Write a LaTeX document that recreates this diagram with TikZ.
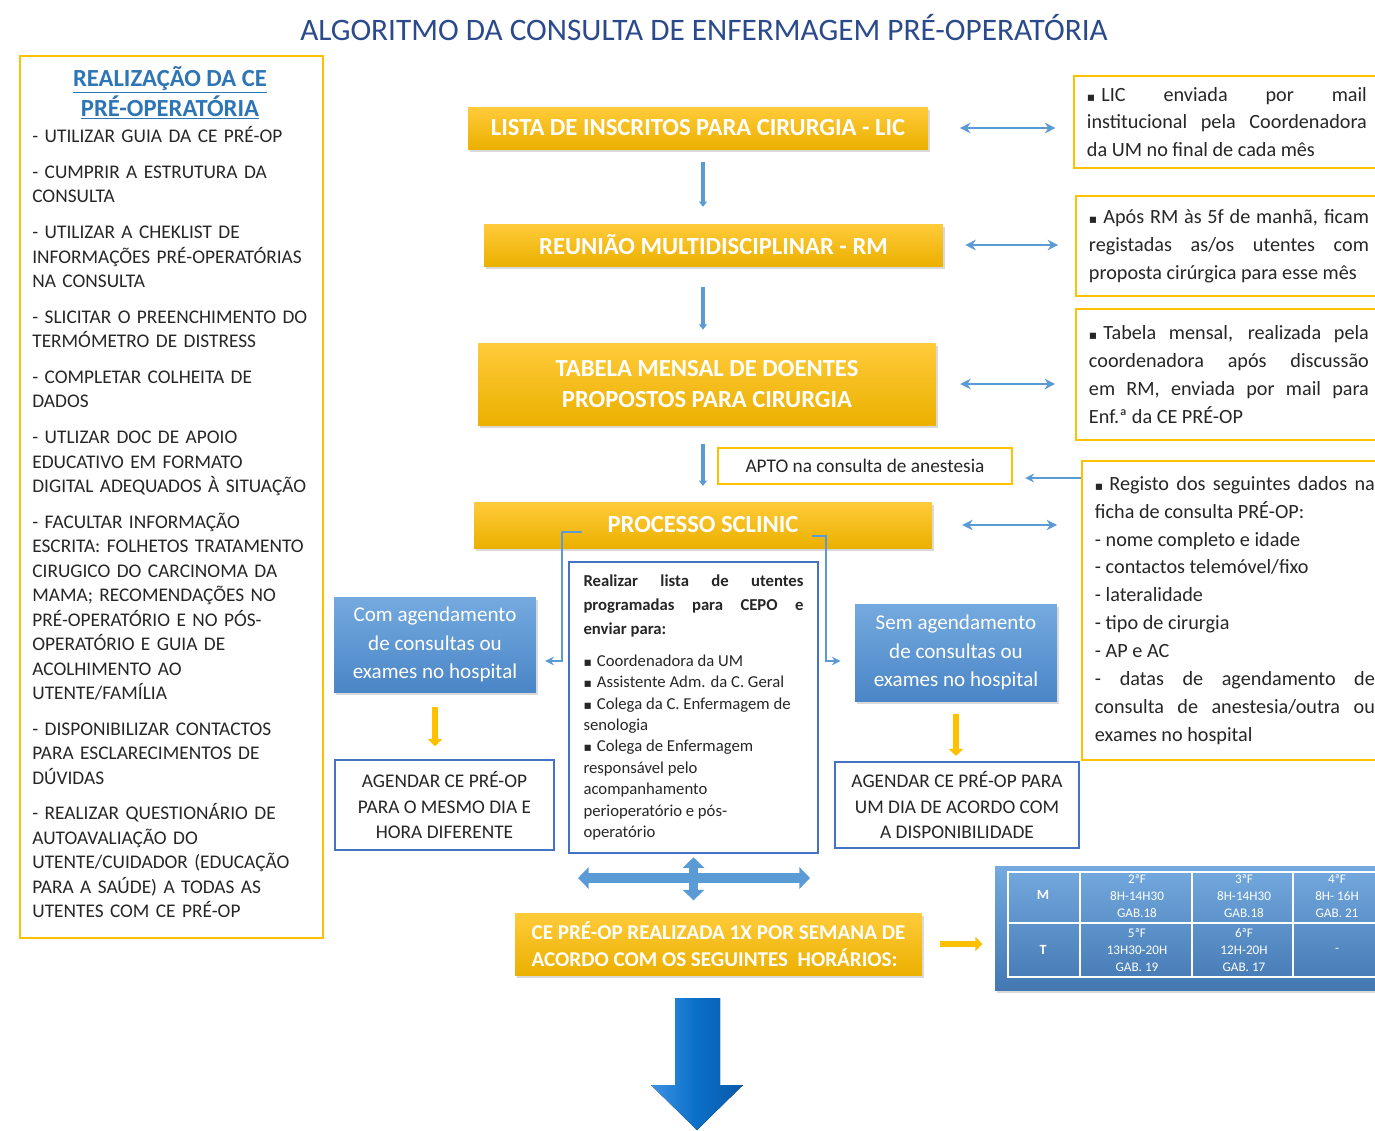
\documentclass[tikz,border=0pt]{standalone}
\usepackage{fontspec}
\setmainfont{Carlito}
\newfontfamily\symf{DejaVu Sans}
\usepackage{graphicx}
\usetikzlibrary{arrows.meta,shadows}
\definecolor{ttlblue}{HTML}{2B4A8C}
\definecolor{ybord}{HTML}{FFC000}
\definecolor{ytop}{HTML}{FFCB3A}
\definecolor{ybot}{HTML}{EBB000}
\definecolor{lnblue}{HTML}{5B9BD5}
\definecolor{btop}{HTML}{74AADF}
\definecolor{bbot}{HTML}{4A85C6}
\definecolor{bbord}{HTML}{4472C4}
\definecolor{hdblue}{HTML}{2E75B6}
\definecolor{txt}{HTML}{262626}
\definecolor{arrl}{HTML}{3C92E4}
\definecolor{arrm}{HTML}{0A6FC8}
\definecolor{arrr}{HTML}{0A58A8}
\newcommand\blt{{\symf\fontsize{7}{7}\selectfont ▪}\hspace{0.3em}}
\hbadness=10000
\begin{document}
\begin{tikzpicture}[x=0.02cm,y=-0.02cm,
  yelbox/.style={top color=ytop,bottom color=ybot,text=white,align=center,inner sep=0pt,
    font=\bfseries\fontsize{14}{17.6}\selectfont,drop shadow={opacity=0.3,shadow xshift=1.2pt,shadow yshift=-1.8pt}},
  bluebox/.style={top color=btop,bottom color=bbot,text=white,align=center,inner sep=0pt,
    font=\fontsize{12}{16.4}\selectfont,drop shadow={opacity=0.3,shadow xshift=1.2pt,shadow yshift=-1.8pt}},
  notebox/.style={draw=ybord,line width=1.1pt,fill=white,text=txt,align=justify,text width=5.6cm,
    inner xsep=0.26cm,anchor=west,font=\fontsize{11.5}{15.9}\selectfont},
  agbox/.style={draw=bbord,line width=0.9pt,fill=white,text=txt,align=center,font=\fontsize{11}{14.7}\selectfont},
  linkarr/.style={draw=lnblue,line width=0.9pt,>={Stealth[length=5pt,width=5pt]},->},
  dblarr/.style={draw=lnblue,line width=1.2pt,>={Stealth[length=6pt,width=6pt]},<->},
  downarr/.style={draw=lnblue,line width=2.3pt,>={Triangle[length=3pt,width=4.5pt]},->},
  orgarr/.style={draw=ybord,line width=3.2pt,>={Triangle[length=4pt,width=8pt]},->},
  fourarr/.style={draw=lnblue,line width=5.5pt,>={Triangle[length=6pt,width=12pt]},<->},
  cell/.style={text=white,align=center,font=\fontsize{7.5}{9.6}\selectfont}]
\useasboundingbox (0,0) rectangle (1375,1130);
\node[font=\fontsize{17.8}{20}\selectfont,text=ttlblue] (title) at (704,28) {ALGORITMO DA CONSULTA DE ENFERMAGEM PRÉ-OPERATÓRIA};
\node[draw=ybord,line width=1.2pt,minimum width=6.06cm,minimum height=17.64cm] (left) at (171.5,497) {};
\node[text=hdblue,font=\bfseries\fontsize{14}{15.9}\selectfont,align=center] (lefthd) at (170,93)
  {\underline{REALIZAÇÃO DA CE}\\\underline{PRÉ-OPERATÓRIA}};
\node[anchor=north west,inner sep=0pt,text width=5.9cm,align=left,text=txt,font=\fontsize{11}{13.9}\selectfont] (leftlst) at (32,126) {%
- UTILIZAR GUIA DA CE PRÉ-OP\\[6.5pt]
- CUMPRIR A ESTRUTURA DA\\CONSULTA\\[6.5pt]
- UTILIZAR A CHEKLIST DE\\INFORMAÇÕES PRÉ-OPERATÓRIAS\\NA CONSULTA\\[6.5pt]
- SLICITAR O PREENCHIMENTO DO\\TERMÓMETRO DE DISTRESS\\[6.5pt]
- COMPLETAR COLHEITA DE\\DADOS\\[6.5pt]
- UTLIZAR DOC DE APOIO\\EDUCATIVO EM FORMATO\\DIGITAL ADEQUADOS À SITUAÇÃO\\[6.5pt]
- FACULTAR INFORMAÇÃO\\ESCRITA: FOLHETOS TRATAMENTO\\CIRUGICO DO CARCINOMA DA\\MAMA; RECOMENDAÇÕES NO\\PRÉ-OPERATÓRIO E NO PÓS-\\OPERATÓRIO E GUIA DE\\ACOLHIMENTO AO\\UTENTE/FAMÍLIA\\[6.5pt]
- DISPONIBILIZAR CONTACTOS\\PARA ESCLARECIMENTOS DE\\DÚVIDAS\\[6.5pt]
- REALIZAR QUESTIONÁRIO DE\\AUTOAVALIAÇÃO DO\\UTENTE/CUIDADOR (EDUCAÇÃO\\PARA A SAÚDE) A TODAS AS\\UTENTES COM CE PRÉ-OP};
\node[yelbox,minimum width=9.2cm,minimum height=0.84cm] (lic) at (698,128) {LISTA DE INSCRITOS PARA CIRURGIA - LIC};
\node[yelbox,minimum width=9.18cm,minimum height=0.84cm] (rm) at (713.5,245) {REUNIÃO MULTIDISCIPLINAR - RM};
\node[yelbox,minimum width=9.16cm,minimum height=1.64cm] (tab) at (707,384) {TABELA MENSAL DE DOENTES\\PROPOSTOS PARA CIRURGIA};
\node[yelbox,minimum width=9.16cm,minimum height=0.92cm] (proc) at (703,525) {PROCESSO SCLINIC};
\node[yelbox,minimum width=8.14cm,minimum height=1.24cm,align=left,font=\bfseries\fontsize{12}{15.3}\selectfont] (ce) at (718.5,944)
  {CE PRÉ-OP REALIZADA 1X POR SEMANA DE\\ACORDO COM OS SEGUINTES\ \ HORÁRIOS:};
\node[notebox,minimum height=1.84cm] (n1) at (1073,122)
  {\blt LIC enviada por mail\linebreak institucional pela Coordenadora\linebreak da UM no final de cada mês};
\node[notebox,minimum height=2cm] (n2) at (1075,246)
  {\blt Após RM às 5f de manhã, ficam\linebreak registadas as/os utentes com\linebreak proposta cirúrgica para esse mês};
\node[notebox,minimum height=2.62cm] (n3) at (1075,374.5)
  {\blt Tabela mensal, realizada pela\linebreak coordenadora após discussão\linebreak em RM, enviada por mail para\linebreak Enf.ª da CE PRÉ-OP};
\node[notebox,minimum height=5.98cm] (n4) at (1081,610.5)
  {\blt Registo dos seguintes dados na\linebreak ficha de consulta PRÉ-OP:\\- nome completo e idade\\- contactos telemóvel/fixo\\- lateralidade\\- tipo de cirurgia\\- AP e AC\\- datas de agendamento de\linebreak consulta de anestesia/outra ou\linebreak exames no hospital};
\node[draw=ybord,line width=1.1pt,minimum width=5.88cm,minimum height=0.72cm,text=txt,font=\fontsize{11}{13}\selectfont] (apto) at (865,466) {APTO na consulta de anestesia};
\node[bluebox,minimum width=4.04cm,minimum height=1.9cm] (com) at (435,644.5) {Com agendamento\\de consultas ou\\exames no hospital};
\node[bluebox,minimum width=4.04cm,minimum height=1.94cm] (sem) at (956,652.5) {Sem agendamento\\de consultas ou\\exames no hospital};
\node[agbox,minimum width=4.38cm,minimum height=1.8cm] (ag1) at (444.5,805) {AGENDAR CE PRÉ-OP\\PARA O MESMO DIA E\\HORA DIFERENTE};
\node[agbox,minimum width=4.88cm,minimum height=1.72cm] (ag2) at (957,805) {AGENDAR CE PRÉ-OP PARA\\UM DIA DE ACORDO COM\\A DISPONIBILIDADE};
\node[draw=bbord,line width=0.9pt,minimum width=4.98cm,minimum height=5.82cm,text width=4.4cm,align=justify,text=txt,font=\fontsize{9.5}{12.2}\selectfont] (mid) at (693.5,707.5)
  {{\bfseries\fontsize{9.5}{13.6}\selectfont Realizar lista de utentes\linebreak programadas para CEPO e\linebreak enviar para:\par}\vspace{6pt}
  \blt Coordenadora da UM\\\blt Assistente Adm. da C. Geral\\\blt Colega da C. Enfermagem de\\senologia\\\blt Colega de Enfermagem\\responsável pelo\\acompanhamento\\perioperatório e pós-\\operatório};
\node[minimum width=7.8cm,minimum height=2.48cm,top color=btop,bottom color=bbot!90!black,drop shadow={opacity=0.3,shadow xshift=1.2pt,shadow yshift=-1.8pt}] (tbl) at (1190,928) {};
\draw[white,line width=0.7pt] (1008,872) rectangle (1390,977) (1080,872) -- (1080,977) (1192,872) -- (1192,977)
  (1293,872) -- (1293,977) (1008,923) -- (1390,923);
\node[cell,font=\bfseries\fontsize{8}{9.6}\selectfont] (tm) at (1043,895) {M};
\node[cell,font=\bfseries\fontsize{8}{9.6}\selectfont] (tt) at (1043,950) {T};
\node[cell] (c11) at (1137,896) {2ªF\\8H-14H30\\GAB.18};
\node[cell] (c12) at (1244,896) {3ªF\\8H-14H30\\GAB.18};
\node[cell] (c13) at (1337,896) {4ªF\\8H- 16H\\GAB. 21};
\node[cell] (c21) at (1137,950) {5ªF\\13H30-20H\\GAB. 19};
\node[cell] (c22) at (1244,950) {6ªF\\12H-20H\\GAB. 17};
\node[cell] (c23) at (1337,950) {-};
\draw[downarr,shorten <=7.4pt,shorten >=9.6pt] (lic.south -| proc.north) -- (rm.north -| proc.north);
\draw[downarr,shorten <=12pt,shorten >=7.4pt] (rm.south -| proc.north) -- (tab.north -| proc.north);
\draw[downarr,shorten <=10.8pt,shorten >=9pt] (tab.south -| proc.north) -- (proc.north);
\draw[dblarr,shorten <=18pt,shorten >=10pt] (lic.east) -- (lic.east -| n1.west);
\draw[dblarr,shorten <=12.5pt,shorten >=9.6pt] (rm.east) -- (rm.east -| n2.west);
\draw[dblarr,shorten <=13.6pt,shorten >=11.3pt] (tab.east) -- (tab.east -| n3.west);
\draw[dblarr,shorten <=17pt,shorten >=13.6pt] (proc.east) -- (proc.east -| n4.west);
\coordinate (ap) at (1081,478);
\draw[linkarr,line width=1.2pt,shorten >=7pt] (ap) -- (ap -| apto.east);
\coordinate (pl) at (582,532);
\coordinate (plb) at (562,661);
\draw[linkarr,shorten >=5pt] (pl) -| (plb) -- (plb -| com.east);
\coordinate (pr) at (812,536);
\coordinate (prb) at (826,661);
\draw[linkarr,shorten >=8pt] (pr) -| (prb) -- (prb -| sem.west);
\draw[orgarr,shorten <=8.5pt,shorten >=7.4pt] (com.south) -- (com.south |- ag1.north);
\draw[orgarr,shorten <=7.4pt,shorten >=3pt] (sem.south) -- (sem.south |- ag2.north);
\draw[orgarr,shorten <=10pt,shorten >=7pt] (ce.east) -- (ce.east -| tbl.west);
\coordinate (fwl) at (578,878);
\coordinate (fwr) at (810,878);
\draw[fourarr] (fwl) -- (fwr);
\draw[fourarr,shorten <=2pt,shorten >=7pt] (mid.south) -- (mid.south |- ce.north);
\fill[left color=arrl,right color=arrr,middle color=arrm]
  (675,998) -- (720,998) -- (720,1085) -- (743,1085) -- (697,1130) -- (651,1085) -- (675,1085) -- cycle;
\end{tikzpicture}
\end{document}
